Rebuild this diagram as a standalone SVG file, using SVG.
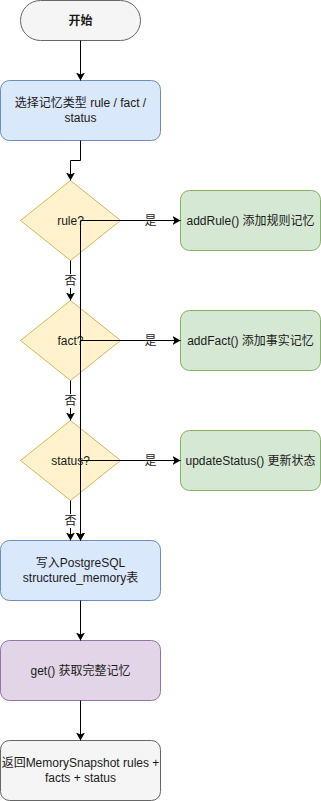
<svg xmlns="http://www.w3.org/2000/svg" width="321" height="801" viewBox="0 0 321 801">
<defs>
<style>
text{font-family:"Liberation Sans","Noto Sans CJK SC",sans-serif;font-size:12px;fill:#1a1a1a;text-anchor:middle;dominant-baseline:central}
.gray{fill:#f5f5f5;stroke:#666666}
.blue{fill:#dae8fc;stroke:#6c8ebf}
.yellow{fill:#fff2cc;stroke:#d6b656}
.green{fill:#d5e8d4;stroke:#82b366}
.purple{fill:#e1d5e7;stroke:#9673a6}
.edge{fill:none;stroke:#000;stroke-width:1;marker-end:url(#arr)}
.lbg{fill:#fff}
</style>
<marker id="arr" markerUnits="userSpaceOnUse" markerWidth="10" markerHeight="10" refX="8" refY="4.5" orient="auto" viewBox="0 0 10 10">
<path d="M0,0 L8,4.5 L0,9 L2,4.5 Z" fill="#000"/>
</marker>
</defs>
<g id="start"><rect class="gray" x="20.5" y="0.5" width="120" height="40" rx="20"/><text x="80.5" y="20.5" font-weight="bold">开始</text></g>
<g id="select"><rect class="blue" x="0.5" y="80.5" width="160" height="60" rx="9"/><text x="80.5" y="103">选择记忆类型 rule / fact /</text><text x="80.5" y="118">status</text></g>
<g id="isRule"><path class="yellow" d="M70.5,180.5 L120.5,220.5 L70.5,260.5 L20.5,220.5 Z"/><text x="70.5" y="220.5">rule?</text></g>
<g id="addRule"><rect class="green" x="180.5" y="190.5" width="140" height="60" rx="9"/><text x="250.5" y="220.5">addRule() 添加规则记忆</text></g>
<g id="isFact"><path class="yellow" d="M70.5,300.5 L120.5,340.5 L70.5,380.5 L20.5,340.5 Z"/><text x="70.5" y="340.5">fact?</text></g>
<g id="addFact"><rect class="green" x="180.5" y="310.5" width="140" height="60" rx="9"/><text x="250.5" y="340.5">addFact() 添加事实记忆</text></g>
<g id="isStatus"><path class="yellow" d="M70.5,420.5 L120.5,460.5 L70.5,500.5 L20.5,460.5 Z"/><text x="70.5" y="460.5">status?</text></g>
<g id="updateStatus"><rect class="green" x="180.5" y="430.5" width="140" height="60" rx="9"/><text x="250.5" y="460.5">updateStatus() 更新状态</text></g>
<g id="write"><rect class="blue" x="0.5" y="540.5" width="160" height="60" rx="9"/><text x="80.5" y="563">写入PostgreSQL</text><text x="80.5" y="578">structured_memory表</text></g>
<g id="get"><rect class="purple" x="0.5" y="640.5" width="160" height="60" rx="9"/><text x="80.5" y="670.5">get() 获取完整记忆</text></g>
<g id="ret"><rect class="gray" x="0.5" y="740.5" width="160" height="60" rx="9"/><text x="80.5" y="763">返回MemorySnapshot rules +</text><text x="80.5" y="778">facts + status</text></g>
<g id="connectors">
<path class="edge" d="M80.5,40.5 L80.5,80.5"/>
<path class="edge" d="M80.5,140.5 L80.5,160.5 L70.5,160.5 L70.5,180.5"/>
<path class="edge" d="M120.5,220.5 L180.5,220.5"/>
<rect class="lbg" x="144" y="213" width="13" height="14"/><text x="150.5" y="220.5">是</text>
<path class="edge" d="M70.5,260.5 L70.5,300.5"/>
<rect class="lbg" x="64" y="274" width="13" height="14"/><text x="70.5" y="281">否</text>
<path class="edge" d="M120.5,340.5 L180.5,340.5"/>
<rect class="lbg" x="144" y="333" width="13" height="14"/><text x="150.5" y="340.5">是</text>
<path class="edge" d="M70.5,380.5 L70.5,420.5"/>
<rect class="lbg" x="64" y="394" width="13" height="14"/><text x="70.5" y="401">否</text>
<path class="edge" d="M120.5,460.5 L180.5,460.5"/>
<rect class="lbg" x="144" y="453" width="13" height="14"/><text x="150.5" y="460.5">是</text>
<path class="edge" d="M70.5,500.5 L70.5,540.5"/>
<rect class="lbg" x="64" y="514" width="13" height="14"/><text x="70.5" y="521">否</text>
<path class="edge" d="M180.5,220.5 L80.5,220.5 L80.5,540.5"/>
<path class="edge" d="M180.5,340.5 L80.5,340.5 L80.5,540.5"/>
<path class="edge" d="M180.5,460.5 L80.5,460.5 L80.5,540.5"/>
<path class="edge" d="M80.5,600.5 L80.5,640.5"/>
<path class="edge" d="M80.5,700.5 L80.5,740.5"/>
</g>
</svg>
